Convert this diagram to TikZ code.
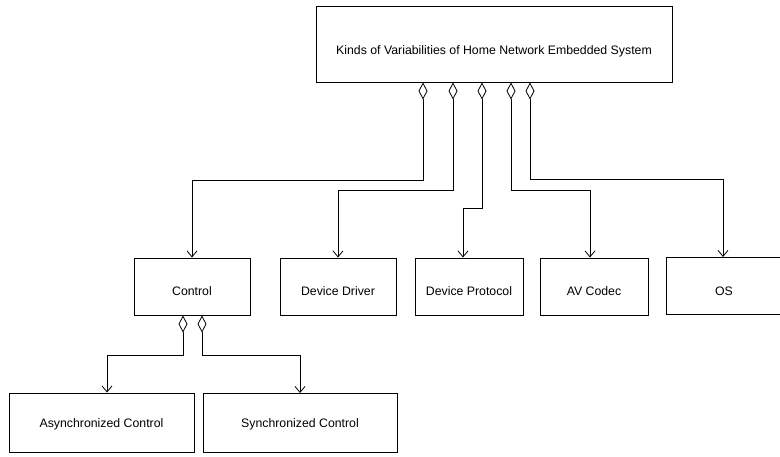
\documentclass[tikz,border=0pt]{standalone}
\usepackage{fontspec}
\setmainfont{Liberation Sans}
\usetikzlibrary{arrows.meta,shadows}
\begin{document}
\begin{tikzpicture}[x=1pt,y=-1pt,
  box/.style={draw=black,line width=1pt,fill=white,inner sep=0pt,
    font=\fontsize{12.3}{14}\selectfont,
    drop shadow={shadow xshift=0.9pt,shadow yshift=-0.9pt,fill=black!75,opacity=1}},
  midbox/.style={box,text height=18pt,text depth=0pt,minimum height=57pt},
  lowbox/.style={box,text height=9pt,text depth=0pt,minimum height=59pt},
  agg/.style={draw=black,line width=0.8pt,
    {Diamond[open,length=17pt,width=9pt,line width=0.8pt]}-{Straight Barb[length=6pt,width=10pt,line width=0.8pt]}}
]
\useasboundingbox (0,0) rectangle (780,456);
\node[box,text height=21pt,text depth=0pt,minimum width=356pt,minimum height=76pt] (top) at (494,44)
  {Kinds of Variabilities of Home Network Embedded System};
\node[midbox,minimum width=116pt] (control) at (192,286.5) {Control};
\node[midbox,minimum width=116pt] (driver) at (338,286.5) {Device Driver};
\node[midbox,minimum width=108pt] (protocol) at (469,286.5) {Device Protocol};
\node[midbox,minimum width=108pt] (avcodec) at (594,286.5) {AV Codec};
\node[midbox,minimum width=116pt] (os) at (724,286) {OS};
\node[lowbox,minimum width=185pt] (async) at (101.5,422.5) {Asynchronized Control};
\node[lowbox,minimum width=194pt] (sync) at (300,423) {Synchronized Control};

\draw[agg] ([xshift=-71pt]top.south) -- ++(0,98) -| (control.north);
\draw[agg] ([xshift=-41pt]top.south) -- ++(0,108) -| (driver.north);
\draw[agg] ([xshift=-12pt]top.south) -- ++(0,126) -| ([xshift=-6pt]protocol.north);
\draw[agg] ([xshift=17pt]top.south) -- ++(0,108) -| ([xshift=-4pt]avcodec.north);
\draw[agg] ([xshift=36pt]top.south) -- ++(0,97) -| ([xshift=-1pt]os.north);
\draw[agg] ([xshift=-9pt]control.south) -- ++(0,40) -| ([xshift=5.5pt]async.north);
\draw[agg] ([xshift=10pt]control.south) -- ++(0,40) -| (sync.north);
\end{tikzpicture}
\end{document}
